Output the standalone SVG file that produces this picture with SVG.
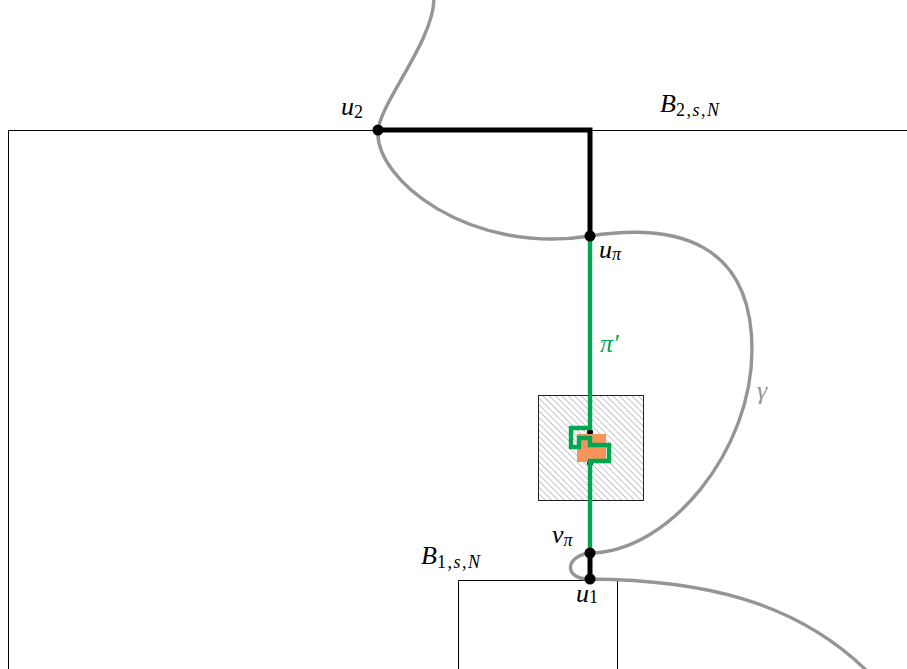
<svg xmlns="http://www.w3.org/2000/svg" width="907" height="669" viewBox="0 0 907 669">
<style>
.lbl{font-family:"Liberation Serif","DejaVu Serif",serif;font-size:26px;font-style:italic;fill:#000}
.sub{font-size:18px;letter-spacing:1.5px}
.up{font-style:normal}
.box{fill:none;stroke:#000;stroke-width:1}
.gamma{fill:none;stroke:#959595;stroke-width:3.4;stroke-linecap:round}
.thick{fill:none;stroke:#000;stroke-width:5;stroke-linejoin:miter}
.green{fill:none;stroke:#00a651;stroke-width:4.4;stroke-linejoin:miter}
.dot{fill:#000}
</style>
<defs>
<pattern id="hatch" patternUnits="userSpaceOnUse" width="4.5" height="10" patternTransform="rotate(-45)">
<line x1="0" y1="0" x2="0" y2="10" stroke="#6a6a6a" stroke-width="0.8"/>
</pattern>
</defs>
<rect width="907" height="669" fill="#fff"/>

<g id="box-B2">
<path class="box" d="M8.5,669 V130.5 H907"/>
<text class="lbl" x="660" y="112">B<tspan class="sub up" dy="4">2,</tspan><tspan class="sub">s</tspan><tspan class="sub up">,</tspan><tspan class="sub">N</tspan></text>
</g>
<g id="box-B1">
<path class="box" d="M458.5,669 V580.5 H617.5 V669"/>
<text class="lbl" x="421" y="564">B<tspan class="sub up" dy="4">1,</tspan><tspan class="sub">s</tspan><tspan class="sub up">,</tspan><tspan class="sub">N</tspan></text>
</g>
<g id="hatched-square">
<rect x="538.5" y="395.5" width="105" height="105" fill="url(#hatch)" stroke="#222" stroke-width="1"/>
</g>

<g id="connectors">
<path id="gamma" class="gamma" d="M434,-2 C434,40 382,100 378,130 C374,180 470,255 590,236 C680,222 752,245 752,350 C752,450 670,552 590,553 C564,556 564,580 590,579 C700,580 795,600 868,672"/>
<path id="black-top" class="thick" d="M378,130 H590 V236"/>
<path id="black-bottom" class="thick" d="M590,553 V579"/>
<circle class="dot" cx="590" cy="432" r="3"/>
<circle class="dot" cx="590" cy="463" r="3"/>
<rect x="577" y="434" width="29" height="28" fill="#f6955a"/>
<path id="pi-prime" class="green" d="M590,236 V428 H571 V447 H579 V438 H590 V445 H609 V461 H590 V553"/>
</g>

<g id="node-u2">
<circle class="dot" cx="378" cy="130" r="5.5"/>
<text class="lbl" x="341" y="115">u<tspan class="sub up" dy="3">2</tspan></text>
</g>
<g id="node-upi">
<circle class="dot" cx="590" cy="236" r="5.5"/>
<text class="lbl" x="599" y="258">u<tspan class="sub" dy="2">π</tspan></text>
</g>
<g id="node-vpi">
<circle class="dot" cx="590" cy="553" r="5.5"/>
<text class="lbl" x="552" y="543">v<tspan class="sub" dy="3">π</tspan></text>
</g>
<g id="node-u1">
<circle class="dot" cx="590" cy="579" r="5.5"/>
<text class="lbl" x="576" y="602">u<tspan class="sub up" dy="1">1</tspan></text>
</g>
<g id="labels">
<text class="lbl" x="600" y="352" style="fill:#00a651">π′</text>
<text class="lbl" x="757" y="399" style="fill:#959595">γ</text>
</g>
</svg>
